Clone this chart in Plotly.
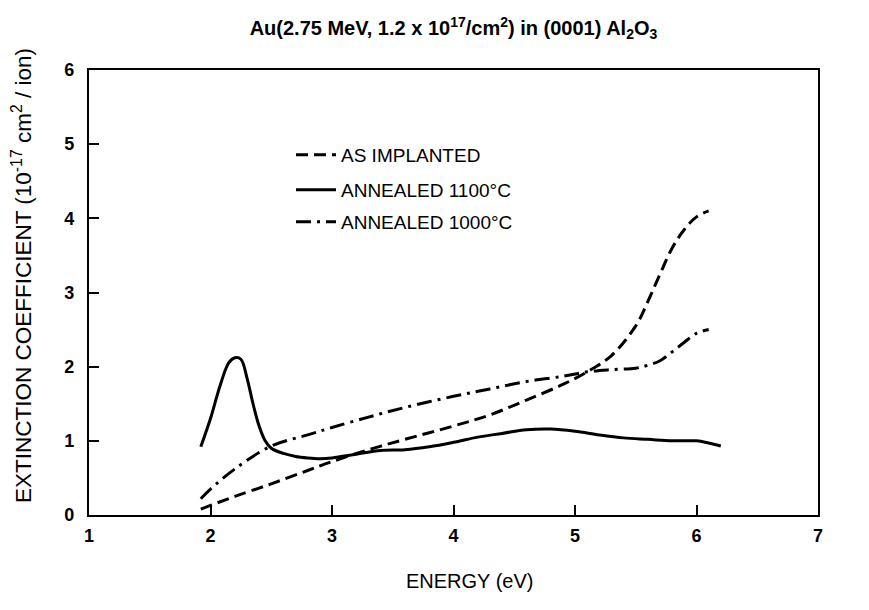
import plotly.graph_objects as go

# Data
x_as_impl = [1.92, 2.0, 2.2, 2.5, 2.8, 3.0, 3.3, 3.6, 4.0, 4.3, 4.6, 4.9, 5.1, 5.3, 5.5, 5.6, 5.7, 5.8, 5.9, 6.0, 6.1]
y_as_impl = [0.08, 0.13, 0.25, 0.42, 0.60, 0.72, 0.88, 1.02, 1.20, 1.35, 1.55, 1.76, 1.93, 2.15, 2.55, 2.88, 3.25, 3.60, 3.85, 4.02, 4.10]

x_1100 = [1.92, 2.0, 2.08, 2.15, 2.2, 2.25, 2.3, 2.35, 2.4, 2.45, 2.5, 2.6, 2.7, 2.8, 2.9, 3.0, 3.2, 3.4, 3.6, 3.8, 4.0, 4.2, 4.4, 4.6, 4.8, 5.0, 5.2, 5.4, 5.6, 5.8, 6.0, 6.1, 6.2]
y_1100 = [0.92, 1.30, 1.75, 2.05, 2.12, 2.10, 1.85, 1.50, 1.20, 1.00, 0.90, 0.83, 0.79, 0.77, 0.76, 0.77, 0.82, 0.87, 0.88, 0.92, 0.98, 1.05, 1.10, 1.15, 1.16, 1.13, 1.08, 1.04, 1.02, 1.00, 1.00, 0.97, 0.93]

x_1000 = [1.92, 2.0, 2.2, 2.5, 2.8, 3.0, 3.3, 3.6, 4.0, 4.3, 4.6, 4.9, 5.1, 5.3, 5.5, 5.6, 5.7, 5.8, 5.9, 6.0, 6.1]
y_1000 = [0.22, 0.35, 0.62, 0.93, 1.08, 1.18, 1.32, 1.45, 1.60, 1.70, 1.80, 1.87, 1.93, 1.96, 1.98, 2.02, 2.08, 2.20, 2.33, 2.45, 2.50]

x_ticks = [1, 2, 3, 4, 5, 6, 7]
y_ticks = [0, 1, 2, 3, 4, 5, 6]

FONT = "Liberation Sans, Arial, sans-serif"
LW = 3.0

# plot box in pixels
L, R, T, B = 81, 810, 62, 507
W, H = 869, 610
PW, PH = R - L, B - T


def px_x(p):
    return (p - L) / PW


def px_y(p):
    return (B - p) / PH


fig = go.Figure()
fig.add_trace(go.Scatter(x=x_as_impl, y=y_as_impl, mode="lines", name="AS IMPLANTED", legend="legend",
                         line=dict(color="black", width=LW, dash="12px,6px", shape="spline")))
fig.add_trace(go.Scatter(x=x_1100, y=y_1100, mode="lines", name="ANNEALED 1100°C", legend="legend2",
                         line=dict(color="black", width=LW, shape="spline")))
fig.add_trace(go.Scatter(x=x_1000, y=y_1000, mode="lines", name="ANNEALED 1000°C", legend="legend3",
                         line=dict(color="black", width=LW, dash="15px,6px,3px,6px", shape="spline")))

leg = dict(xanchor="left", yanchor="middle", bgcolor="rgba(0,0,0,0)",
           font=dict(size=19, family=FONT), itemwidth=40)
lx = px_x(283)
fig.update_layout(
    width=W, height=H,
    paper_bgcolor="white", plot_bgcolor="white",
    margin=dict(l=L, r=W - R, t=T, b=H - B),
    font=dict(family=FONT, color="black", size=16),
    title=dict(text="<b>Au(2.75 MeV, 1.2 x 10<sup>17</sup>/cm<sup>2</sup>) in (0001) Al<sub>2</sub>O<sub>3</sub></b>",
               x=(L + R) / 2 / W, xanchor="center", y=1 - 20 / H, yanchor="middle",
               font=dict(size=20, family=FONT)),
    showlegend=True,
    legend=dict(leg, x=lx, y=px_y(147)),
    legend2=dict(leg, x=lx, y=px_y(182)),
    legend3=dict(leg, x=lx, y=px_y(214)),
    annotations=[
        dict(text="ENERGY (eV)", xref="paper", yref="paper", x=px_x(461), y=px_y(573),
             xanchor="center", yanchor="middle", showarrow=False,
             font=dict(size=20, family=FONT, color="black")),
        dict(text="EXTINCTION COEFFICIENT (10<sup>-17</sup> cm<sup>2</sup> / ion)",
             xref="paper", yref="paper", x=px_x(14), y=px_y(268), textangle=-90,
             xanchor="center", yanchor="middle", showarrow=False,
             font=dict(size=22.5, family=FONT, color="black")),
    ],
)
fig.update_xaxes(range=[1, 7], tickvals=x_ticks, ticktext=[f"<b>{v}</b>" for v in x_ticks],
                 showgrid=False, zeroline=False, showline=True, linecolor="black", linewidth=2.4,
                 mirror=True, ticks="inside", ticklen=10, tickwidth=1.8, tickcolor="black",
                 tickfont=dict(size=18, family=FONT), ticklabelstandoff=3)
fig.update_yaxes(range=[0, 6], tickvals=y_ticks, ticktext=[f"<b>{v}</b>" for v in y_ticks],
                 showgrid=False, zeroline=False, showline=True, linecolor="black", linewidth=2.4,
                 mirror=True, ticks="inside", ticklen=10, tickwidth=1.8, tickcolor="black",
                 tickfont=dict(size=18, family=FONT), ticklabelstandoff=9)

fig.write_html("out.html")
